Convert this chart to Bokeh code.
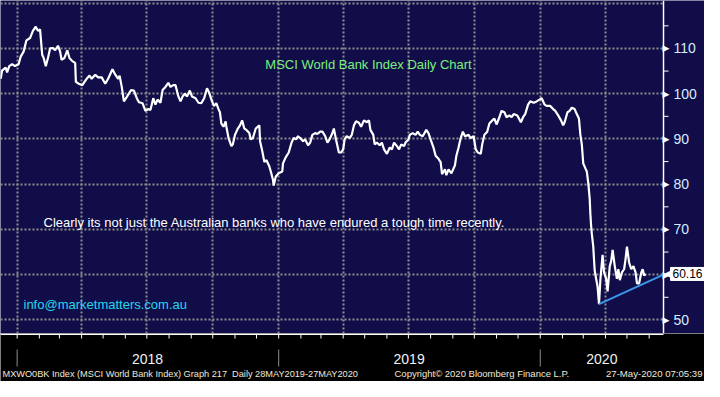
import pandas as pd
from bokeh.plotting import figure
from bokeh.layouts import column
from bokeh.models import Range1d, FixedTicker, Label, ColumnDataSource, Span
from bokeh.core.properties import value
from bokeh.embed import file_html
from bokeh.resources import INLINE

# ---------------- data ----------------
dates_a = ["2017-12-09", "2017-12-11", "2017-12-16", "2017-12-18", "2017-12-21", "2017-12-25", "2017-12-29",
           "2018-01-03", "2018-01-06", "2018-01-10", "2018-01-14", "2018-01-19", "2018-01-23", "2018-01-27",
           "2018-01-30", "2018-02-02", "2018-02-05", "2018-02-07", "2018-02-10", "2018-02-13", "2018-02-16",
           "2018-02-20", "2018-02-23", "2018-02-27", "2018-03-02", "2018-03-04", "2018-03-08", "2018-03-12",
           "2018-03-15", "2018-03-19", "2018-03-23", "2018-03-24", "2018-03-28", "2018-04-02", "2018-04-05",
           "2018-04-08", "2018-04-12", "2018-04-15", "2018-04-20", "2018-04-24", "2018-04-29", "2018-05-04",
           "2018-05-08", "2018-05-14", "2018-05-18", "2018-05-22", "2018-05-24", "2018-05-27", "2018-05-30",
           "2018-06-02", "2018-06-05", "2018-06-09", "2018-06-13", "2018-06-17", "2018-06-20", "2018-06-25",
           "2018-06-29", "2018-07-03", "2018-07-06", "2018-07-10", "2018-07-13", "2018-07-16", "2018-07-20",
           "2018-07-23", "2018-07-27", "2018-07-31", "2018-08-03", "2018-08-07", "2018-08-10", "2018-08-14",
           "2018-08-17", "2018-08-20", "2018-08-23", "2018-08-26", "2018-08-30", "2018-09-02", "2018-09-07",
           "2018-09-11", "2018-09-15", "2018-09-19", "2018-09-23", "2018-09-26", "2018-09-30", "2018-10-03",
           "2018-10-06", "2018-10-09", "2018-10-11", "2018-10-13", "2018-10-16", "2018-10-19", "2018-10-20",
           "2018-10-23", "2018-10-27", "2018-10-29", "2018-11-01", "2018-11-05", "2018-11-08", "2018-11-11",
           "2018-11-14", "2018-11-17", "2018-11-21", "2018-11-23", "2018-11-26", "2018-11-30", "2018-12-05",
           "2018-12-06", "2018-12-09", "2018-12-12", "2018-12-15", "2018-12-19", "2018-12-21", "2018-12-24",
           "2018-12-25", "2018-12-28"]
vals_a = [103.3, 105.1, 105.8, 104.7, 106.1, 106.5, 106.1,
          106.5, 108.2, 109.3, 111.8, 112.3, 113.9, 114.8,
          113.9, 114.2, 108.6, 107.9, 106.1, 107.9, 110.0,
          110.1, 109.6, 110.6, 109.3, 107.5, 107.9, 109.6,
          107.9, 107.2, 106.8, 102.6, 102.2, 101.9, 102.6,
          103.3, 104.0, 103.3, 104.2, 103.6, 103.6, 102.2,
          103.3, 105.4, 104.2, 103.3, 104.0, 101.5, 98.3,
          99.0, 99.8, 100.8, 100.7, 99.0, 98.1, 97.9,
          96.2, 96.6, 96.4, 99.0, 97.6, 98.7, 98.0,
          100.8, 101.5, 102.4, 101.5, 101.9, 101.9, 99.4,
          98.3, 99.4, 100.0, 99.4, 100.7, 99.4, 99.0,
          98.0, 97.9, 99.0, 101.2, 100.2, 98.3, 97.3,
          97.9, 96.6, 95.9, 93.4, 92.7, 93.9, 92.7,
          90.2, 88.4, 88.8, 90.9, 92.3, 93.0, 94.1,
          92.3, 92.0, 91.3, 89.9, 90.2, 92.3, 93.0,
          89.5, 87.4, 84.9, 85.3, 83.9, 82.8, 81.0,
          79.7, 81.7]

dates_b = ["2019-01-01", "2019-01-06", "2019-01-07", "2019-01-11", "2019-01-15", "2019-01-19", "2019-01-22",
           "2019-01-25", "2019-01-28", "2019-01-31", "2019-02-04", "2019-02-07", "2019-02-11", "2019-02-14",
           "2019-02-17", "2019-02-21", "2019-02-24", "2019-02-28", "2019-03-03", "2019-03-07", "2019-03-10",
           "2019-03-13", "2019-03-17", "2019-03-19", "2019-03-22", "2019-03-26", "2019-03-29", "2019-04-01",
           "2019-04-03", "2019-04-06", "2019-04-10", "2019-04-13", "2019-04-16", "2019-04-19", "2019-04-23",
           "2019-04-26", "2019-04-30", "2019-05-04", "2019-05-07", "2019-05-09", "2019-05-13", "2019-05-15",
           "2019-05-18", "2019-05-22", "2019-05-25", "2019-05-28", "2019-06-01", "2019-06-05", "2019-06-08",
           "2019-06-11", "2019-06-15", "2019-06-18", "2019-06-21", "2019-06-25", "2019-06-27", "2019-07-01",
           "2019-07-03", "2019-07-07", "2019-07-11", "2019-07-14", "2019-07-17", "2019-07-21", "2019-07-26",
           "2019-07-29", "2019-08-01", "2019-08-05", "2019-08-08", "2019-08-12", "2019-08-15", "2019-08-17",
           "2019-08-21", "2019-08-23", "2019-08-26", "2019-08-30", "2019-09-04", "2019-09-06", "2019-09-09",
           "2019-09-12", "2019-09-15", "2019-09-18", "2019-09-23", "2019-09-26", "2019-09-30", "2019-10-03",
           "2019-10-06", "2019-10-10", "2019-10-12", "2019-10-15", "2019-10-19", "2019-10-22", "2019-10-26",
           "2019-10-29", "2019-11-01", "2019-11-05", "2019-11-08", "2019-11-12", "2019-11-15", "2019-11-19",
           "2019-11-22", "2019-11-25", "2019-11-30", "2019-12-05", "2019-12-08", "2019-12-11", "2019-12-15",
           "2019-12-18", "2019-12-23", "2019-12-27", "2019-12-31"]
vals_b = [82.4, 82.8, 84.6, 86.0, 87.0, 89.2, 90.2,
          89.9, 90.6, 90.2, 89.5, 89.9, 88.6, 89.2,
          90.9, 91.3, 91.1, 91.6, 91.6, 90.6, 89.2,
          89.9, 91.3, 92.3, 89.9, 87.0, 87.0, 87.7,
          89.9, 90.6, 90.2, 90.9, 93.0, 93.9, 93.6,
          92.7, 94.1, 93.7, 94.1, 92.0, 90.9, 88.8,
          89.2, 88.6, 89.2, 87.7, 86.7, 88.1, 87.7,
          89.2, 88.4, 87.7, 88.8, 88.4, 89.2, 89.9,
          90.9, 91.3, 90.9, 91.6, 90.9, 90.6, 92.0,
          91.3, 89.9, 88.1, 86.3, 85.6, 84.9, 82.2,
          83.3, 82.0, 83.3, 82.4, 84.2, 86.3, 88.1,
          90.2, 91.6, 90.6, 90.9, 90.2, 90.6, 87.7,
          87.0, 86.7, 88.8, 90.9, 91.6, 93.4, 94.1,
          94.5, 93.2, 94.8, 96.2, 95.9, 94.8, 95.2,
          94.8, 95.5, 95.2, 93.7, 94.8, 95.5, 97.6,
          98.3, 98.0, 98.3, 98.7]

dates_c = ["2020-01-03", "2020-01-07", "2020-01-10", "2020-01-15", "2020-01-19", "2020-01-22", "2020-01-26",
           "2020-01-30", "2020-02-02", "2020-02-04", "2020-02-08", "2020-02-11", "2020-02-14", "2020-02-18",
           "2020-02-21", "2020-02-24", "2020-02-26", "2020-02-28", "2020-03-01", "2020-03-04", "2020-03-06",
           "2020-03-08", "2020-03-10", "2020-03-11", "2020-03-12", "2020-03-13", "2020-03-15", "2020-03-16",
           "2020-03-17", "2020-03-19", "2020-03-21", "2020-03-23", "2020-03-25", "2020-03-28", "2020-03-30",
           "2020-04-02", "2020-04-04", "2020-04-07", "2020-04-09", "2020-04-11", "2020-04-14", "2020-04-17",
           "2020-04-19", "2020-04-21", "2020-04-24", "2020-04-27", "2020-04-29", "2020-05-01", "2020-05-04",
           "2020-05-07", "2020-05-10", "2020-05-13", "2020-05-15", "2020-05-18", "2020-05-21", "2020-05-23",
           "2020-05-25", "2020-05-27"]
vals_c = [99.0, 97.6, 97.3, 97.3, 96.6, 96.2, 95.2,
          94.1, 93.0, 93.7, 95.9, 96.2, 96.9, 96.6,
          95.5, 94.5, 90.9, 88.8, 84.6, 83.5, 82.8,
          80.3, 76.8, 73.3, 70.8, 69.0, 66.2, 63.4,
          60.9, 59.1, 57.4, 53.5, 59.1, 64.4, 60.5,
          59.1, 56.3, 61.9, 63.0, 65.5, 61.9, 59.1,
          61.2, 58.8, 60.5, 61.2, 63.4, 66.2, 62.7,
          61.2, 61.9, 60.5, 58.1, 58.1, 60.5, 61.2,
          59.8, 60.16]

trend_dates = ["2020-03-23", "2020-06-21"]
trend_vals = [53.5, 60.0]

y_ticks = [50, 60, 70, 80, 90, 100, 110]
y_tick_labels = ["50", "60", "70", "80", "90", "100", "110"]
y_minor = [55, 65, 75, 85, 95, 105, 115]
y_grid = [50, 60, 70, 80, 90, 100, 110, 120]
year_starts = ["2018-01-01", "2019-01-01", "2020-01-01"]
year_labels = ["2018", "2019", "2020"]
year_label_dates = ["2018-07-02", "2019-07-02", "2020-03-27"]
x_start, x_end = "2017-12-08 19:00", "2020-06-21"   # x_end = where the value axis sits
y_start, y_end = 47.0, 120.6

title_text = "MSCI World Bank Index Daily Chart"
note_text = "Clearly its not just the Australian banks who have endured a tough time recently."
email_text = "info@marketmatters.com.au"
footer_left = "MXWO0BK Index (MSCI World Bank Index) Graph 217\u00a0 Daily 28MAY2019-27MAY2020"
footer_mid = "Copyright\u00a9 2020 Bloomberg Finance L.P."
footer_right = "27-May-2020 07:05:39"

# ---------------- layout constants ----------------
W = 704
DATA_W = 663          # width of the plotting area left of the value axis
TOP_H = 333
BOTTOM_H = 381 - TOP_H

NAVY = "#100d49"
GRID = "#8e8e8e"
FONT = "Liberation Sans"
FOOT = "#f3e9d8"


def ms(s):
    return pd.Timestamp(s).value / 1e6


xs, xe = pd.Timestamp(x_start), pd.Timestamp(x_end)
x_full_end = xs + (xe - xs) * (W / DATA_W)
x_range = Range1d(xs, x_full_end)

dates = pd.to_datetime(dates_a + dates_b + dates_c)
values = vals_a + vals_b + vals_c
src = ColumnDataSource(dict(date=dates, value=values))

# ---------------- top figure ----------------
p = figure(width=W, height=TOP_H, x_axis_type="datetime", x_axis_location=None, y_axis_location=None,
           x_range=x_range, y_range=Range1d(y_start, y_end),
           output_backend="svg", toolbar_location=None,
           min_border_left=0, min_border_top=0, min_border_right=0, min_border_bottom=0,
           background_fill_color=NAVY, border_fill_color="black", outline_line_color=None)

quarter_ticks = [t.value / 1e6 for t in pd.date_range("2018-01-01", "2020-04-01", freq="QS")]
p.xgrid.ticker = FixedTicker(ticks=quarter_ticks)
p.ygrid.ticker = FixedTicker(ticks=y_grid)
p.ygrid.cross_bounds = (ms(x_start), ms(x_end))
for g in (p.xgrid, p.ygrid):
    g.grid_line_color = GRID
    g.grid_line_dash = "2 2"
    g.grid_line_width = 2

# value axis on the right edge of the data area
p.add_layout(Span(location=ms(x_end), dimension="height", line_color="white", line_width=1.5))
p.text(x=[xe] * len(y_ticks), y=y_ticks, text=["\u25B6"] * len(y_ticks),
       text_color="white", text_font=value("DejaVu Sans"), text_font_size="9px",
       text_align="left", text_baseline="middle", x_offset=-1)
p.ray(x=[xe] * len(y_minor), y=y_minor, length=5, length_units="screen", angle=0,
      line_color="white", line_width=1)
p.text(x=[xe] * len(y_ticks), y=y_ticks, text=y_tick_labels,
       text_color="#d6ebff", text_font=value(FONT), text_font_size="14px",
       text_align="left", text_baseline="middle", x_offset=10)

# series
p.line(x="date", y="value", source=src, color="white", line_width=2.2)
p.line(pd.to_datetime(trend_dates), trend_vals, color="#3d97e8", line_width=2)

# last value box
p.text(x=[xe], y=[values[-1]], text=["\u25C0"], text_color="white",
       text_font=value("DejaVu Sans"), text_font_size="11px",
       text_align="left", text_baseline="middle", x_offset=0)
box_kw = dict(x=[xe], y=[values[-1]], text=[f"{values[-1]:.2f}"], text_color="black",
              text_font=value(FONT), text_font_size="12px", text_align="left",
              text_baseline="middle", x_offset=7,
              background_fill_color="white", border_line_color="white")
try:
    p.text(padding=2, **box_kw)
except Exception:
    p.text(**box_kw)

# in-chart texts
p.add_layout(Label(x=368, y=269, x_units="screen", y_units="screen", text=title_text,
                   text_color="#7cf07c", text_font=FONT, text_font_size="13px",
                   text_align="center", text_baseline="middle"))
p.add_layout(Label(x=43, y=111, x_units="screen", y_units="screen", text=note_text,
                   text_color="white", text_font=FONT, text_font_size="13px",
                   text_align="left", text_baseline="middle"))
p.add_layout(Label(x=23, y=29, x_units="screen", y_units="screen", text=email_text,
                   text_color="#22d8ee", text_font=FONT, text_font_size="13px",
                   text_align="left", text_baseline="middle"))

# ---------------- bottom strip (time axis) ----------------
b = figure(width=W, height=BOTTOM_H, x_axis_type="datetime", x_axis_location=None, y_axis_location=None,
           x_range=x_range, y_range=Range1d(0, BOTTOM_H),
           output_backend="svg", toolbar_location=None,
           min_border_left=0, min_border_top=0, min_border_right=0, min_border_bottom=0,
           background_fill_color="black", border_fill_color="black", outline_line_color=None)
b.grid.visible = False

month_ticks = pd.date_range("2018-01-01", "2020-06-01", freq="MS")
b.segment(x0=[xs], y0=[BOTTOM_H - 0.8], x1=[xe], y1=[BOTTOM_H - 0.8], line_color="white", line_width=1.6)
b.segment(x0=month_ticks, y0=[BOTTOM_H - 5] * len(month_ticks), x1=month_ticks,
          y1=[BOTTOM_H] * len(month_ticks), line_color="white", line_width=1)

ys = pd.to_datetime(year_starts)
b.segment(x0=ys, y0=[BOTTOM_H - 33] * len(ys), x1=ys, y1=[BOTTOM_H - 16] * len(ys),
          line_color=GRID, line_width=1)
b.text(x=pd.to_datetime(year_label_dates), y=[BOTTOM_H - 25] * len(year_labels), text=year_labels,
       text_color="#f2f2f2", text_font=value(FONT), text_font_size="14px",
       text_align="center", text_baseline="middle")

foot_y = BOTTOM_H - 40
b.add_layout(Label(x=2, y=foot_y, x_units="screen", y_units="screen", text=footer_left,
                   text_color=FOOT, text_font=FONT, text_font_size="9.2px",
                   text_align="left", text_baseline="middle"))
b.add_layout(Label(x=394, y=foot_y, x_units="screen", y_units="screen", text=footer_mid,
                   text_color=FOOT, text_font=FONT, text_font_size="9.5px",
                   text_align="left", text_baseline="middle"))
b.add_layout(Label(x=702, y=foot_y, x_units="screen", y_units="screen", text=footer_right,
                   text_color=FOOT, text_font=FONT, text_font_size="9.6px",
                   text_align="right", text_baseline="middle"))

layout = column(p, b, spacing=0)
open("out.html", "w").write(file_html(layout, INLINE))
